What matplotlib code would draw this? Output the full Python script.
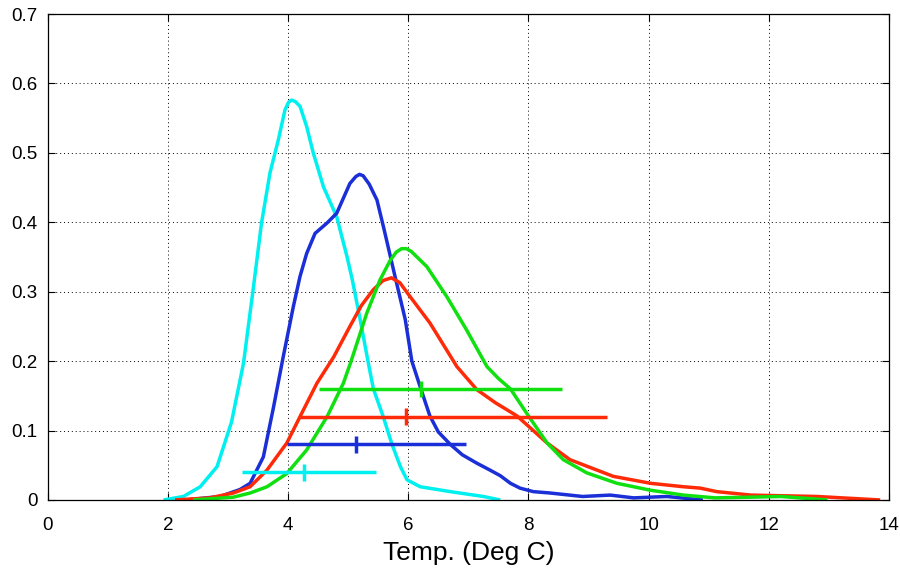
import numpy as np
import matplotlib
matplotlib.use("Agg")
import matplotlib.pyplot as plt

# density curves (x in deg C, y density)
cyan_x = [1.93, 2.26, 2.54, 2.82, 3.06, 3.26, 3.42, 3.56, 3.70, 3.84, 3.95, 4.01, 4.06, 4.12,
          4.2, 4.31, 4.42, 4.59, 4.81, 4.98, 5.07, 5.2, 5.33, 5.42, 5.58, 5.73, 5.87, 5.98,
          6.2, 6.7, 7.25, 7.53]
cyan_y = [0.0, 0.005, 0.019, 0.048, 0.112, 0.197, 0.303, 0.399, 0.471, 0.519, 0.562, 0.573,
          0.576, 0.574, 0.567, 0.538, 0.50, 0.451, 0.408, 0.351, 0.317, 0.26, 0.2, 0.16, 0.121,
          0.08, 0.048, 0.029, 0.019, 0.012, 0.005, 0.0]

blue_x = [2.3, 2.87, 3.2, 3.37, 3.59, 3.76, 3.92, 4.09, 4.2, 4.31, 4.45, 4.65, 4.81, 5.03,
          5.13, 5.19, 5.25, 5.35, 5.48, 5.6, 5.78, 5.95, 6.06, 6.21, 6.36, 6.5, 6.70, 6.9,
          7.14, 7.36, 7.53, 7.7, 7.86, 8.08, 8.36, 8.9, 9.36, 9.75, 10.3, 10.9]
blue_y = [0.0, 0.005, 0.015, 0.024, 0.062, 0.134, 0.206, 0.279, 0.322, 0.355, 0.384, 0.399,
          0.413, 0.456, 0.466, 0.469, 0.467, 0.455, 0.432, 0.389, 0.322, 0.26, 0.2, 0.16, 0.121,
          0.098, 0.08, 0.065, 0.053, 0.043, 0.035, 0.024, 0.017, 0.012, 0.010, 0.005, 0.007,
          0.003, 0.005, 0.0]

red_x = [2.12, 2.7, 3.09, 3.37, 3.65, 3.98, 4.2, 4.48, 4.76, 5.03, 5.22, 5.42, 5.58, 5.72,
         5.86, 6.03, 6.36, 6.81, 7.14, 7.45, 7.81, 8.31, 8.69, 9.41, 10.03, 10.58, 10.86,
         11.13, 11.7, 12.8, 13.85]
red_y = [0.0, 0.003, 0.01, 0.019, 0.043, 0.082, 0.12, 0.168, 0.206, 0.25, 0.28, 0.303, 0.316,
         0.320, 0.313, 0.293, 0.255, 0.192, 0.159, 0.14, 0.121, 0.082, 0.058, 0.034, 0.024,
         0.019, 0.017, 0.012, 0.007, 0.005, 0.0]

green_x = [2.42, 3.09, 3.37, 3.65, 3.98, 4.31, 4.65, 4.92, 5.05, 5.31, 5.53, 5.7, 5.8, 5.89,
           5.97, 6.05, 6.31, 6.64, 6.97, 7.31, 7.5, 7.70, 8.0, 8.31, 8.58, 8.97, 9.47, 10.03,
           10.58, 11.1, 11.7, 12.2, 12.97]
green_y = [0.0, 0.004, 0.01, 0.019, 0.038, 0.072, 0.12, 0.168, 0.2, 0.269, 0.317, 0.345,
           0.357, 0.362, 0.362, 0.358, 0.336, 0.293, 0.245, 0.192, 0.175, 0.16, 0.121, 0.082,
           0.058, 0.039, 0.024, 0.014, 0.007, 0.003, 0.004, 0.005, 0.0]

# horizontal range bars with a tick at the mean
bar_level = [0.04, 0.08, 0.12, 0.16]
bar_lo = [3.24, 3.98, 4.18, 4.52]
bar_hi = [5.46, 6.96, 9.30, 8.56]
bar_mean = [4.26, 5.13, 5.96, 6.21]

colors = ["#00f0f0", "#1a2fd8", "#ff2a08", "#10e010"]

plt.rcParams["font.family"] = ["Liberation Sans", "DejaVu Sans"]

fig = plt.figure(figsize=(9, 5.74), dpi=100)
ax = fig.add_axes([0.0528, 0.129, 0.9352, 0.8466])

curves = [(cyan_x, cyan_y), (blue_x, blue_y), (red_x, red_y), (green_x, green_y)]
for (cx, cy), c in zip(curves, colors):
    ax.plot(cx, cy, color=c, lw=2.5, solid_joinstyle="round", solid_capstyle="butt")

tick_h = 0.012
for lev, lo, hi, m, c in zip(bar_level, bar_lo, bar_hi, bar_mean, colors):
    ax.plot([lo, hi], [lev, lev], color=c, lw=2.5, solid_capstyle="butt")
    ax.plot([m, m], [lev - tick_h, lev + tick_h], color=c, lw=2.5, solid_capstyle="butt")

ax.set_xlim(0, 14)
ax.set_ylim(0, 0.7)
ax.set_xticks(np.arange(0, 15, 2))
ax.set_yticks(np.arange(0, 0.71, 0.1))
ax.set_yticklabels(["0", "0.1", "0.2", "0.3", "0.4", "0.5", "0.6", "0.7"])
ax.grid(True, color="black", linestyle=(0, (1, 3)), linewidth=0.7)
ax.tick_params(direction="in", top=True, right=True, length=5, labelsize=13.5)
ax.tick_params(axis="x", pad=12)
ax.tick_params(axis="y", pad=7)
for s in ax.spines.values():
    s.set_color("black")
    s.set_linewidth(0.9)
ax.set_xlabel("Temp. (Deg C)", fontsize=19, labelpad=5)

fig.savefig("out.png", dpi=100)
